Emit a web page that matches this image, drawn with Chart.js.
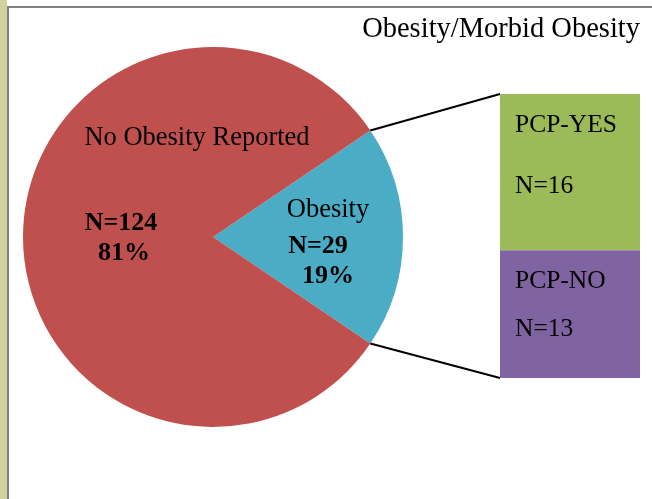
<!DOCTYPE html>
<html>
<head>
<meta charset="utf-8">
<script src="https://cdn.jsdelivr.net/npm/chart.js@4.4.0/dist/chart.umd.min.js"></script>
<style>
  html, body { margin: 0; padding: 0; background: #fff; }
  #wrap { position: relative; width: 652px; height: 499px; overflow: hidden; background: #fff; }
  #strip { position: absolute; left: 0; top: 0; width: 7px; height: 499px; background: #d2d1a0; }
  #vline { position: absolute; left: 7px; top: 6px; width: 2px; height: 493px; background: #808080; }
  #hline { position: absolute; left: 7px; top: 6px; width: 645px; height: 2px; background: #808080; }
  #pieChart { position: absolute; left: 0; top: 0; }
  #barChart { position: absolute; left: 500px; top: 94px; }
</style>
</head>
<body>
<div id="wrap">
  <div id="strip"></div>
  <div id="vline"></div>
  <div id="hline"></div>
  <canvas id="pieChart" width="652" height="499"></canvas>
  <canvas id="barChart" width="140" height="284"></canvas>
</div>
<script>
// data
const pieLabels = ['Obesity', 'No Obesity Reported'];
const pieCounts = [29, 124];
const piePercents = ['19%', '81%'];
const pieColors = ['#4bacc6', '#c0504d'];

const barLabels = ['PCP-NO', 'PCP-YES'];
const barCounts = [13, 16];
const barColors = ['#8064a2', '#9bbb59'];

const title = 'Obesity/Morbid Obesity';
const serif = '"Liberation Serif", "Times New Roman", serif';

// bar of pie (stacked, one column)
const barCtx = document.getElementById('barChart');
const barChart = new Chart(barCtx, {
  type: 'bar',
  data: {
    labels: [''],
    datasets: barLabels.map((lab, i) => ({
      label: lab,
      data: [barCounts[i]],
      backgroundColor: barColors[i],
      borderColor: '#ffffff',
      borderWidth: i === 0 ? 0 : { bottom: 1, top: 0, left: 0, right: 0 },
      borderSkipped: false,
      categoryPercentage: 1,
      barPercentage: 1
    }))
  },
  options: {
    responsive: false,
    animation: false,
    events: [],
    layout: { padding: 0 },
    plugins: { legend: { display: false }, tooltip: { enabled: false } },
    scales: {
      x: { stacked: true, display: false },
      y: { stacked: true, display: false, min: 0, max: barCounts.reduce((a, b) => a + b, 0) }
    }
  },
  plugins: [{
    id: 'barText',
    afterDraw(chart) {
      const ctx = chart.ctx;
      ctx.save();
      ctx.fillStyle = '#000';
      ctx.font = '25.5px ' + serif;
      ctx.textAlign = 'left';
      const offs = [[37, 85], [38, 99]];
      chart.data.datasets.forEach((ds, i) => {
        const el = chart.getDatasetMeta(i).data[0];
        const left = el.x - el.width / 2 + 15;
        const top = Math.min(el.y, el.base);
        ctx.fillText(ds.label, left, top + offs[i][0]);
        ctx.fillText('N=' + ds.data[0], left, top + offs[i][1]);
      });
      ctx.restore();
    }
  }]
});

// pie with labels and connector lines
const half = pieCounts[0] / (pieCounts[0] + pieCounts[1]) * 180;
const pieCtx = document.getElementById('pieChart');
new Chart(pieCtx, {
  type: 'pie',
  data: {
    labels: pieLabels,
    datasets: [{
      data: pieCounts,
      backgroundColor: pieColors,
      borderWidth: 0
    }]
  },
  options: {
    responsive: false,
    animation: false,
    events: [],
    rotation: 90 - half,
    layout: { padding: { left: 23, right: 249, top: 47, bottom: 72 } },
    plugins: { legend: { display: false }, tooltip: { enabled: false } }
  },
  plugins: [{
    id: 'pieText',
    afterDraw(chart) {
      const ctx = chart.ctx;
      const arcs = chart.getDatasetMeta(0).data;
      const ob = arcs[0];
      const cx = ob.x, cy = ob.y, r = ob.outerRadius;
      ctx.save();

      // connector lines to the bar
      const bm0 = barChart.getDatasetMeta(0).data[0];
      const bm1 = barChart.getDatasetMeta(1).data[0];
      const bx = barChart.canvas.offsetLeft;
      const by = barChart.canvas.offsetTop;
      const barLeft = bx + bm1.x - bm1.width / 2;
      const barTop = by + bm1.y;
      const barBottom = by + bm0.base;
      ctx.strokeStyle = '#000';
      ctx.lineWidth = 2;
      ctx.beginPath();
      ctx.moveTo(cx + r * Math.cos(ob.startAngle), cy + r * Math.sin(ob.startAngle));
      ctx.lineTo(barLeft, barTop);
      ctx.moveTo(cx + r * Math.cos(ob.endAngle), cy + r * Math.sin(ob.endAngle));
      ctx.lineTo(barLeft, barBottom);
      ctx.stroke();

      // slice labels
      ctx.fillStyle = '#000';
      ctx.textAlign = 'center';
      ctx.font = '26.5px ' + serif;
      ctx.fillText(pieLabels[1], cx - 16, cy - 92);
      ctx.fillText(pieLabels[0], cx + 115, cy - 20);
      ctx.font = 'bold 26px ' + serif;
      ctx.fillText('N=' + pieCounts[1], cx - 92, cy - 7);
      ctx.fillText(piePercents[1], cx - 89, cy + 23);
      ctx.fillText('N=' + pieCounts[0], cx + 105, cy + 16);
      ctx.fillText(piePercents[0], cx + 115, cy + 46);

      // title
      ctx.font = '28.5px ' + serif;
      ctx.textAlign = 'right';
      ctx.fillText(title, 640, 37);
      ctx.restore();
    }
  }]
});
</script>
</body>
</html>
